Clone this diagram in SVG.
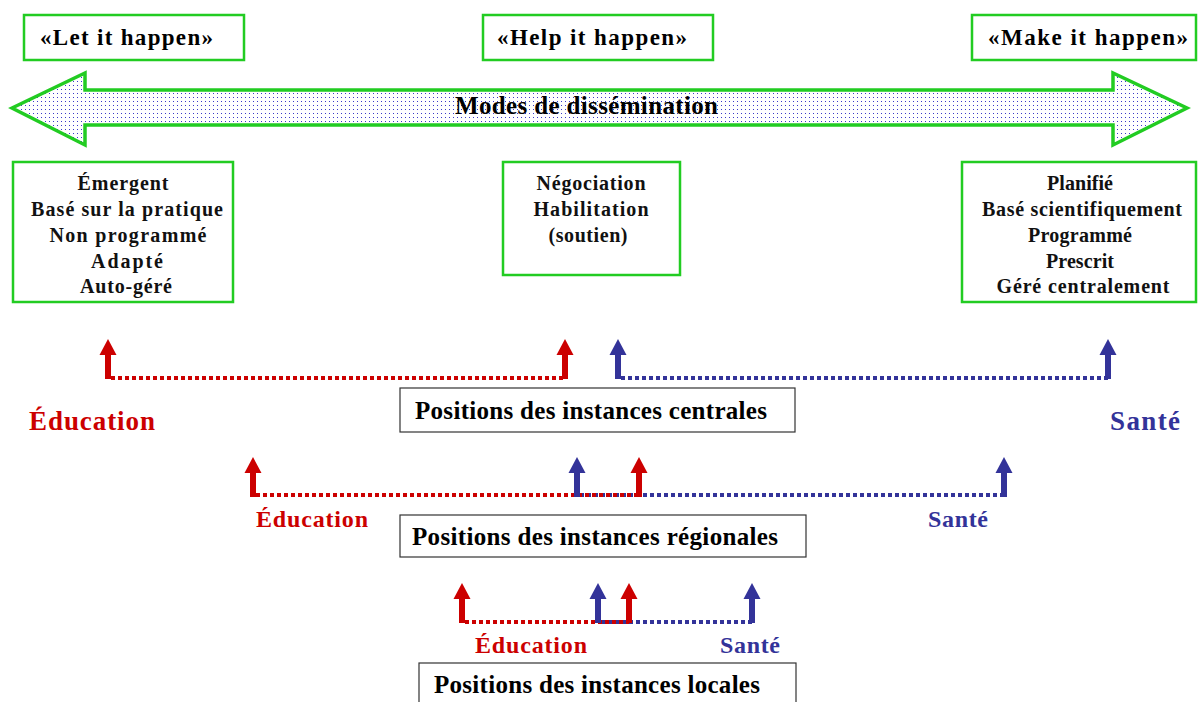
<svg xmlns="http://www.w3.org/2000/svg" xmlns:xlink="http://www.w3.org/1999/xlink" width="1198" height="702" viewBox="0 0 1198 702">
<style>
text{font-family:"Liberation Serif","Times New Roman",serif;font-weight:bold}
.t{fill:#000;font-size:23px}
.b{fill:#111;font-size:20px;text-anchor:middle}
.gbox{fill:#fff;stroke:#22cc22;stroke-width:2.5}
.kbox{fill:#fff;stroke:#333;stroke-width:1.2}
.red{fill:#cc0000}
.blue{fill:#333399}
.dr{stroke:#cc0000;stroke-width:4;stroke-dasharray:4 3;fill:none}
.db{stroke:#333399;stroke-width:4;stroke-dasharray:4 3;fill:none}
.lr{fill:#cc0000}
.lb{fill:#333399}
.p{fill:#000;font-size:25px}
</style>
<defs>
<pattern id="dots" width="4" height="4" patternUnits="userSpaceOnUse">
<rect width="4" height="4" fill="#fff"/>
<rect x="1" y="1" width="1" height="1" fill="#3a3ac8"/>
</pattern>
<path id="up" d="M0,0 L8.5,16 L3,16 L3,40 L-3,40 L-3,16 L-8.5,16 Z"/>
</defs>
<rect width="1198" height="702" fill="#fff"/>

<g id="let">
<rect class="gbox" x="24" y="15" width="220" height="45"/>
<text class="t" x="40" y="45" textLength="173">«Let it happen»</text>
</g>
<g id="help">
<rect class="gbox" x="483" y="15" width="230" height="45"/>
<text class="t" x="497" y="45" textLength="190">«Help it happen»</text>
</g>
<g id="make">
<rect class="gbox" x="972" y="15" width="224" height="45"/>
<text class="t" x="988" y="45" textLength="200">«Make it happen»</text>
</g>

<g id="modes">
<polygon points="12,108 85,73 85,90 1113,90 1113,73 1187,108 1113,145 1113,125 85,125 85,145" fill="url(#dots)" stroke="#22cc22" stroke-width="3.5" stroke-linejoin="miter"/>
<text x="455" y="114" font-size="25" textLength="263">Modes de dissémination</text>
</g>

<g id="left-box">
<rect class="gbox" x="13" y="162" width="220" height="140"/>
<text class="b" x="123" y="190" textLength="91">Émergent</text>
<text class="b" x="127" y="216" textLength="192">Basé sur la pratique</text>
<text class="b" x="128" y="242" textLength="157">Non programmé</text>
<text class="b" x="127" y="268" textLength="72">Adapté</text>
<text class="b" x="126" y="293" textLength="92">Auto-géré</text>
</g>
<g id="mid-box">
<rect class="gbox" x="503" y="162" width="177" height="113"/>
<text class="b" x="591" y="190" textLength="109">Négociation</text>
<text class="b" x="591" y="216" textLength="115">Habilitation</text>
<text class="b" x="588" y="242" textLength="79">(soutien)</text>
</g>
<g id="right-box">
<rect class="gbox" x="962" y="162" width="234" height="140"/>
<text class="b" x="1080" y="190" textLength="66">Planifié</text>
<text class="b" x="1082" y="216" textLength="200">Basé scientifiquement</text>
<text class="b" x="1080" y="242" textLength="104">Programmé</text>
<text class="b" x="1080" y="268" textLength="68">Prescrit</text>
<text class="b" x="1083" y="293" textLength="173">Géré centralement</text>
</g>

<g id="connectors">
<line class="dr" x1="111" y1="378" x2="565" y2="378"/>
<line class="db" x1="621" y1="378" x2="1108" y2="378"/>
<use xlink:href="#up" class="red" x="108" y="339"/>
<use xlink:href="#up" class="red" x="565" y="339"/>
<use xlink:href="#up" class="blue" x="618" y="339"/>
<use xlink:href="#up" class="blue" x="1108" y="339"/>

<line class="db" x1="580" y1="495" x2="1004" y2="495"/>
<line class="dr" x1="256" y1="495" x2="639" y2="495"/>
<use xlink:href="#up" class="red" x="253" y="457"/>
<use xlink:href="#up" class="blue" x="577" y="457"/>
<use xlink:href="#up" class="red" x="639" y="457"/>
<use xlink:href="#up" class="blue" x="1004" y="457"/>

<line class="db" x1="601" y1="622" x2="752" y2="622"/>
<line class="dr" x1="465" y1="622" x2="629" y2="622"/>
<use xlink:href="#up" class="red" x="462" y="583"/>
<use xlink:href="#up" class="blue" x="598" y="583"/>
<use xlink:href="#up" class="red" x="629" y="583"/>
<use xlink:href="#up" class="blue" x="752" y="583"/>
</g>

<g id="central">
<text class="lr" x="29" y="430" font-size="27" textLength="126">Éducation</text>
<text class="lb" x="1110" y="430" font-size="27" textLength="70">Santé</text>
<rect class="kbox" x="400" y="388" width="395" height="44"/>
<text class="p" x="415" y="419" textLength="352">Positions des instances centrales</text>
</g>
<g id="regional">
<text class="lr" x="256" y="527" font-size="24" textLength="112">Éducation</text>
<text class="lb" x="928" y="527" font-size="24" textLength="60">Santé</text>
<rect class="kbox" x="400" y="515" width="406" height="42"/>
<text class="p" x="412" y="545" textLength="366">Positions des instances régionales</text>
</g>
<g id="local">
<text class="lr" x="475" y="653" font-size="24" textLength="112">Éducation</text>
<text class="lb" x="720" y="653" font-size="24" textLength="60">Santé</text>
<rect class="kbox" x="419" y="663" width="377" height="45"/>
<text class="p" x="434" y="693" textLength="326">Positions des instances locales</text>
</g>
</svg>
